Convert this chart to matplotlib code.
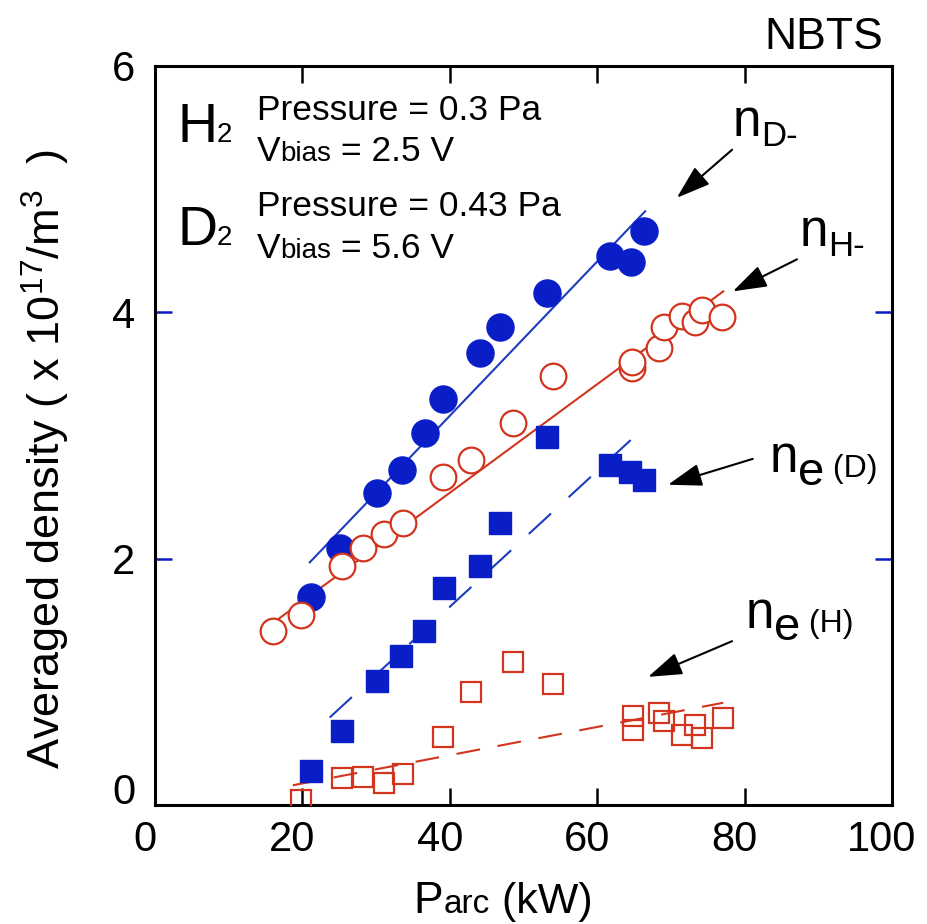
import numpy as np
import matplotlib
matplotlib.use("Agg")
import matplotlib.pyplot as plt
import matplotlib.transforms as mtransforms

plt.rcParams["font.family"] = ["Liberation Sans", "DejaVu Sans"]
plt.rcParams["mathtext.default"] = "regular"

BLUE = "#0a1ec8"
BLUE_LINE = "#1c3cc0"
RED = "#d2341e"

# n_D- (blue filled circles)
nd_x = [21.2, 25.1, 30.1, 33.5, 36.6, 39.1, 44.1, 46.8, 53.2, 61.7, 64.6, 66.4]
nd_y = [1.69, 2.09, 2.53, 2.72, 3.02, 3.30, 3.67, 3.88, 4.16, 4.46, 4.41, 4.66]
nd_fit_x = [21.0, 66.5]
nd_fit_y = [1.97, 4.82]

# n_H- (red open circles)
nh_x = [16.0, 19.8, 25.4, 28.2, 31.1, 33.7, 39.1, 42.9, 48.6, 54.0,
        64.7, 64.7, 68.4, 69.0, 71.5, 73.3, 74.2, 76.9]
nh_y = [1.41, 1.54, 1.94, 2.09, 2.20, 2.29, 2.66, 2.80, 3.10, 3.48,
        3.55, 3.60, 3.71, 3.88, 3.97, 3.92, 4.02, 3.96]
nh_fit_x = [14.7, 77.1]
nh_fit_y = [1.42, 4.17]

# n_e (D) (blue filled squares)
ed_x = [21.1, 25.4, 30.1, 33.4, 36.5, 39.2, 44.1, 46.8, 53.2, 61.7, 64.5, 66.3]
ed_y = [0.28, 0.60, 1.01, 1.21, 1.41, 1.76, 1.94, 2.29, 2.99, 2.76, 2.70, 2.64]
ed_fit_x = [23.7, 66.3]
ed_fit_y = [0.71, 3.06]

# n_e (H) (red open squares)
eh_x = [19.8, 25.4, 28.2, 31.1, 33.7, 39.1, 42.9, 48.6, 54.0,
        64.8, 64.8, 68.4, 69.0, 71.5, 73.3, 74.2, 77.1]
eh_y = [0.04, 0.22, 0.23, 0.18, 0.25, 0.55, 0.92, 1.16, 0.98,
        0.72, 0.61, 0.75, 0.68, 0.57, 0.65, 0.54, 0.71]
eh_fit_x = [18.7, 77.1]
eh_fit_y = [0.16, 0.83]

x_ticks = [0, 20, 40, 60, 80, 100]
y_ticks = [0, 2, 4, 6]


def chain(ax, x, y, pieces, coords="data"):
    """Write text pieces one after another on a common baseline."""
    txt, size, dy = pieces[0]
    prev = ax.annotate(txt, xy=(x, y), xycoords=coords, xytext=(0, dy),
                       textcoords="offset points", fontsize=size,
                       ha="left", va="baseline", annotation_clip=False)
    for txt, size, dy in pieces[1:]:
        prev = ax.annotate(txt, xy=(1, y), xycoords=(prev, coords),
                           xytext=(0, dy), textcoords="offset points",
                           fontsize=size, ha="left", va="baseline",
                           annotation_clip=False)
    return prev


def arrow(ax, start, end):
    ax.annotate("", xy=end, xytext=start,
                arrowprops=dict(arrowstyle="-|>,head_length=0.6,head_width=0.2",
                                color="k", lw=1.5, mutation_scale=35,
                                shrinkA=0, shrinkB=0))


fig = plt.figure(figsize=(9.27, 9.24), dpi=100)
ax = fig.add_axes([0.1672, 0.1288, 0.7951, 0.7998])

# fit lines
ax.plot(nd_fit_x, nd_fit_y, color=BLUE_LINE, lw=1.5, zorder=2)
ax.plot(nh_fit_x, nh_fit_y, color=RED, lw=1.5, zorder=2)
ax.plot(ed_fit_x, ed_fit_y, color=BLUE_LINE, lw=1.5,
        linestyle=(0, (14.5, 11.5)), zorder=2)
ax.plot(eh_fit_x, eh_fit_y, color=RED, lw=1.5,
        linestyle=(0, (11.5, 8.5)), zorder=2)

# data points
ax.plot(nd_x, nd_y, "o", ms=19.5, color=BLUE, mec=BLUE, zorder=3)
ax.plot(ed_x, ed_y, "s", ms=16, color=BLUE, mec=BLUE, zorder=3)
ax.plot(nh_x, nh_y, "o", ms=18.5, mfc="white", mec=RED, mew=1.6, zorder=4)
ax.plot(eh_x, eh_y, "s", ms=15, mfc="none", mec=RED, mew=1.6, zorder=4)

ax.set_xlim(0, 100)
ax.set_ylim(0, 6)
ax.set_xticks(x_ticks)
ax.set_yticks(y_ticks)
ax.set_xticklabels([str(v) for v in x_ticks])
ax.set_yticklabels([str(v) for v in y_ticks])

for s in ax.spines.values():
    s.set_linewidth(2.2)
ax.tick_params(axis="both", direction="in", length=12, width=1.8,
               labelsize=30, top=True, right=True)
ax.tick_params(axis="x", pad=11)
ax.tick_params(axis="y", pad=14, color=BLUE)

# x tick labels sit a little left of their ticks in the original
shift = mtransforms.ScaledTranslation(-10 / 100, 0, fig.dpi_scale_trans)
for lbl in ax.get_xticklabels():
    lbl.set_transform(lbl.get_transform() + shift)
# the y "0" is lifted clear of the x "0"
ylbl0 = ax.get_yticklabels()[0]
ylbl0.set_transform(ylbl0.get_transform()
                    + mtransforms.ScaledTranslation(0, 16 / 100, fig.dpi_scale_trans))

ax.set_ylabel("Averaged density ( x 10$^{17}$/m$^{3}$  )", fontsize=32.5)
ax.yaxis.set_label_coords(-0.112, 0.468)

# x label: P arc (kW)
chain(ax, 0.351, -0.146, [("P", 32, 0), ("arc", 24, 0), (" (kW)", 31, 0)],
      coords="axes fraction")

ax.text(98.8, 6.14, "NBTS", fontsize=32, ha="right", va="baseline", clip_on=False)

# conditions
chain(ax, 3.0, 5.38, [("H", 40, 0), ("2", 20, 0)])
chain(ax, 13.8, 5.56, [("Pressure = 0.3 Pa", 25.5, 0)])
chain(ax, 13.8, 5.23, [("V", 25.5, 0), ("bias", 20, 0), (" = 2.5 V", 25.5, 0)])
chain(ax, 3.0, 4.55, [("D", 40, 0), ("2", 20, 0)])
chain(ax, 13.8, 4.78, [("Pressure = 0.43 Pa", 25.5, 0)])
chain(ax, 13.8, 4.44, [("V", 25.5, 0), ("bias", 20, 0), (" = 5.6 V", 25.5, 0)])

# species labels with arrows
chain(ax, 78.4, 5.43, [("n", 37, 0), ("D-", 25, -7)])
arrow(ax, (78.3, 5.32), (70.8, 4.93))
chain(ax, 87.5, 4.54, [("n", 37, 0), ("H-", 25, -7)])
arrow(ax, (87.1, 4.43), (78.4, 4.17))
chain(ax, 83.4, 2.70, [("n", 37, 0), ("e", 34, -9), (" (D)", 23, -3)])
arrow(ax, (81.1, 2.81), (69.6, 2.60))
chain(ax, 80.1, 1.44, [("n", 37, 0), ("e", 34, -9), (" (H)", 23, -3)])
arrow(ax, (78.3, 1.33), (66.9, 1.04))

fig.savefig("out.png", dpi=100)
